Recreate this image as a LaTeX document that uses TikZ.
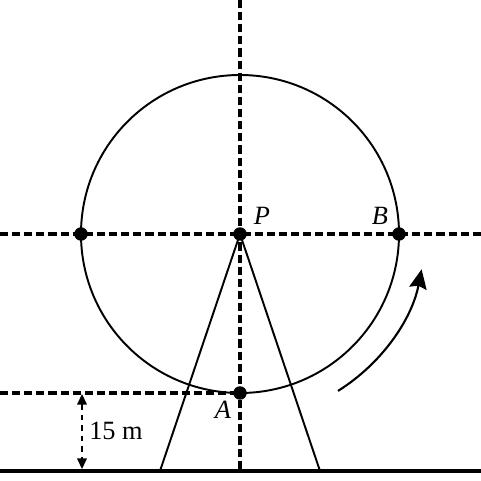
\documentclass[tikz,border=0pt]{standalone}
\usepackage{fontspec}
\setmainfont{Liberation Serif}
\usetikzlibrary{arrows.meta}

\begin{document}
\begin{tikzpicture}[x=0.02cm, y=0.02cm,
        axisline/.style={dash pattern=on 4.6pt off 2.3pt, line width=2.2pt},
        dotnode/.style={circle, fill=black, inner sep=0pt, minimum size=0.27cm},
        labelnode/.style={font=\fontsize{15pt}{17pt}\selectfont\itshape, inner sep=0pt}]
        \useasboundingbox (0,0) rectangle (481,481);
        % points of the wheel
        \coordinate (P) at (240,247);
        \coordinate (left) at (81,247);
        \coordinate (B) at (399,247);
        \coordinate (A) at (240,88);
        \coordinate (top) at (240,481);
        \coordinate (bottom) at (240,10);
        \coordinate (west) at (0,247);
        \coordinate (east) at (481,247);
        \coordinate (westA) at (0,88);
        \coordinate (footl) at (160,10);
        \coordinate (footr) at (320,10);
        \coordinate (groundl) at (0,10);
        \coordinate (groundr) at (481,10);
        \coordinate (dimtop) at (82,87);
        \coordinate (dimbot) at (82,12);
        % wheel and stand
        \draw[line width=1.1pt] (P) circle[radius=159];
        \draw[line width=1.1pt] (footl) -- (P) -- (footr);
        \draw[axisline] (top) -- (bottom);
        \draw[axisline] (west) -- (east);
        \draw[axisline] (westA) -- (A);
        \draw[line width=2.7pt] (groundl) -- (groundr);
        % height
        \draw[dashed, line width=0.7pt, {Triangle[length=6pt,width=5.5pt]}-{Triangle[length=6pt,width=5.5pt]}] (dimtop) -- (dimbot);
        \node[font=\fontsize{15pt}{17pt}\selectfont, inner sep=0pt] (height) at (116,50) {15 m};
        % rotation
        \draw[line width=1.2pt, -{Stealth[length=11pt,width=10pt,inset=1.5pt]}] (P) ++(-58:185) arc[start angle=-58, end angle=-11, radius=185];
        % dots and labels
        \node[dotnode] (dotP) at (P) {};
        \node[dotnode] (dotL) at (left) {};
        \node[dotnode] (dotB) at (B) {};
        \node[dotnode] (dotA) at (A) {};
        \node[labelnode] (labP) at (262,265) {P};
        \node[labelnode] (labB) at (380,265) {B};
        \node[labelnode] (labA) at (223,71) {A};
\end{tikzpicture}
\end{document}
